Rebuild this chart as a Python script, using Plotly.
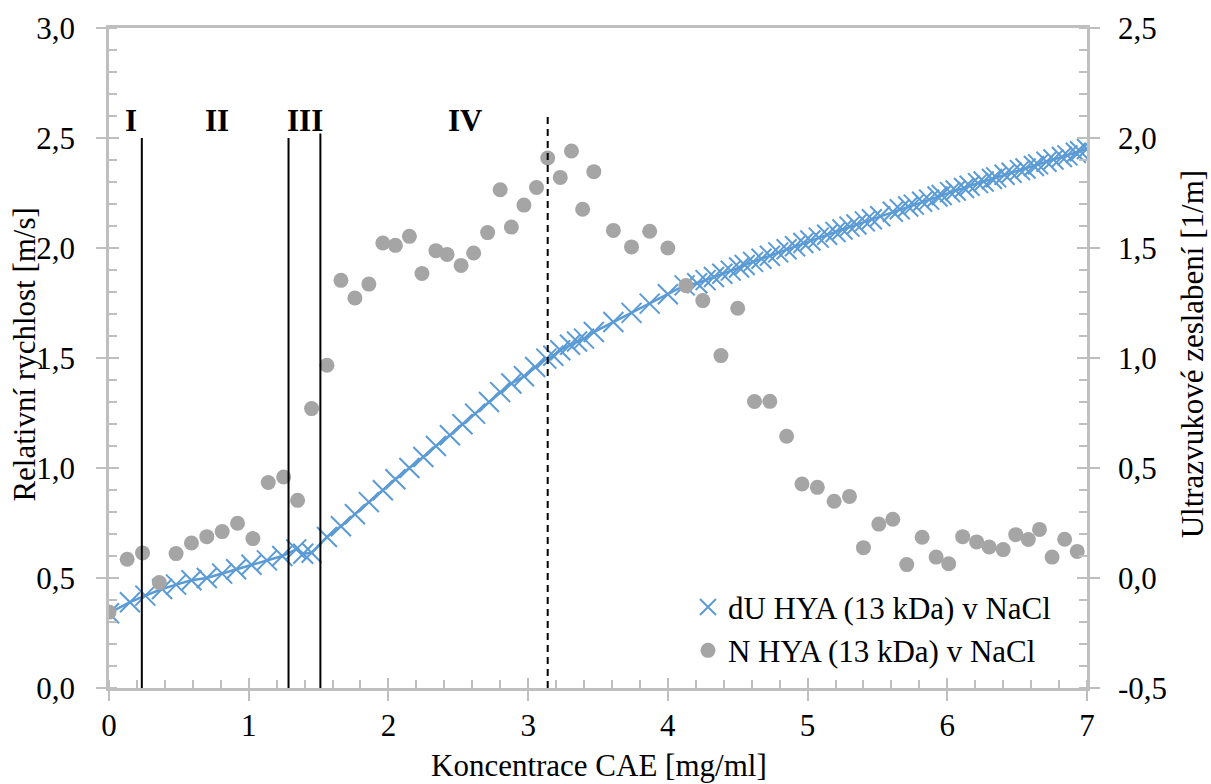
import plotly.graph_objects as go

# ---------------- data ----------------
# N HYA (13 kDa) v NaCl  -> right axis (Ultrazvukové zeslabení [1/m])
n_x = [0.00, 0.13, 0.24, 0.36, 0.48, 0.59, 0.70, 0.81, 0.92, 1.03,
       1.14, 1.25, 1.35, 1.45, 1.56, 1.66, 1.76, 1.86, 1.96, 2.05,
       2.15, 2.24, 2.34, 2.42, 2.52, 2.61, 2.71, 2.80, 2.88, 2.97,
       3.06, 3.14, 3.23, 3.31, 3.39, 3.47, 3.61, 3.74, 3.87, 4.00,
       4.13, 4.25, 4.38, 4.50, 4.62, 4.73, 4.85, 4.96, 5.07, 5.19,
       5.30, 5.40, 5.51, 5.61, 5.71, 5.82, 5.92, 6.01, 6.11, 6.21,
       6.30, 6.40, 6.49, 6.58, 6.66, 6.75, 6.84, 6.93]
n_y = [-0.155, 0.085, 0.114, -0.021, 0.111, 0.159, 0.188, 0.211, 0.249, 0.179,
       0.434, 0.459, 0.353, 0.770, 0.967, 1.353, 1.273, 1.336, 1.523, 1.512,
       1.553, 1.384, 1.488, 1.471, 1.421, 1.477, 1.570, 1.765, 1.595, 1.695,
       1.775, 1.909, 1.821, 1.941, 1.676, 1.847, 1.580, 1.505, 1.576, 1.500,
       1.329, 1.261, 1.011, 1.226, 0.802, 0.803, 0.644, 0.427, 0.412, 0.349,
       0.371, 0.138, 0.245, 0.267, 0.061, 0.185, 0.095, 0.065, 0.188, 0.164,
       0.141, 0.129, 0.197, 0.175, 0.221, 0.095, 0.176, 0.121]

# dU HYA (13 kDa) v NaCl -> left axis (Relativní rychlost [m/s])
du_x = [0.00, 0.15, 0.26, 0.38, 0.48, 0.59, 0.70, 0.81, 0.91, 1.02,
        1.13, 1.24, 1.34, 1.39, 1.45, 1.56, 1.66, 1.76, 1.86, 1.96,
        2.05, 2.15, 2.25, 2.34, 2.44, 2.53, 2.62, 2.72, 2.80, 2.88,
        2.97, 3.05, 3.13, 3.18, 3.23, 3.30, 3.35, 3.40, 3.47, 3.61,
        3.74, 3.87, 4.00, 4.12, 4.21, 4.27, 4.33, 4.39, 4.45, 4.51,
        4.55, 4.61, 4.67, 4.73, 4.79, 4.85, 4.91, 4.97, 5.02, 5.08,
        5.14, 5.20, 5.25, 5.30, 5.35, 5.41, 5.46, 5.52, 5.61, 5.66,
        5.72, 5.76, 5.82, 5.87, 5.93, 5.96, 6.02, 6.06, 6.12, 6.16,
        6.22, 6.26, 6.32, 6.35, 6.41, 6.46, 6.52, 6.56, 6.62, 6.65,
        6.71, 6.76, 6.82, 6.86, 6.92, 6.95, 7.00]
du_y = [0.34, 0.39, 0.42, 0.45, 0.47, 0.49, 0.50, 0.52, 0.54, 0.56,
        0.58, 0.60, 0.63, 0.61, 0.615, 0.686, 0.735, 0.790, 0.845, 0.899,
        0.949, 1.000, 1.050, 1.100, 1.149, 1.199, 1.247, 1.300, 1.345, 1.384,
        1.417, 1.459, 1.497, 1.510, 1.535, 1.560, 1.575, 1.588, 1.618, 1.664,
        1.705, 1.747, 1.790, 1.830, 1.840, 1.854, 1.868, 1.883, 1.897, 1.911,
        1.923, 1.937, 1.951, 1.965, 1.980, 1.994, 2.008, 2.023, 2.034, 2.047,
        2.060, 2.073, 2.084, 2.097, 2.107, 2.121, 2.131, 2.144, 2.165, 2.176,
        2.189, 2.197, 2.210, 2.220, 2.234, 2.241, 2.254, 2.261, 2.273, 2.283,
        2.295, 2.302, 2.314, 2.321, 2.333, 2.342, 2.354, 2.361, 2.373, 2.380,
        2.392, 2.402, 2.414, 2.421, 2.433, 2.440, 2.450]

# region boundaries (left-axis units)
region_x = [0.235, 1.285, 1.513]
region_top = [2.50, 2.50, 2.52]
peak_x = 3.14
peak_top = 2.60
region_labels = ["I", "II", "III", "IV"]
region_label_x = [0.16, 0.77, 1.40, 2.55]
region_label_y = 2.58

x_ticks = [0, 1, 2, 3, 4, 5, 6, 7]
x_ticktext = ["0", "1", "2", "3", "4", "5", "6", "7"]
yl_ticks = [0.0, 0.5, 1.0, 1.5, 2.0, 2.5, 3.0]
yl_ticktext = ["0,0", "0,5", "1,0", "1,5", "2,0", "2,5", "3,0"]
yr_ticks = [-0.5, 0.0, 0.5, 1.0, 1.5, 2.0, 2.5]
yr_ticktext = ["-0,5", "0,0", "0,5", "1,0", "1,5", "2,0", "2,5"]

# ---------------- style ----------------
FONT = "Liberation Serif"
FS = 31
BLUE = "#5b9bd5"
GREY = "#a5a5a5"
AX = "#bfbfbf"

fig = go.Figure()

fig.add_trace(go.Scatter(x=du_x, y=du_y, mode="lines", line=dict(color=BLUE, width=2.5),
                         showlegend=False, hoverinfo="skip", xaxis="x", yaxis="y"))
fig.add_trace(go.Scatter(x=du_x, y=du_y, mode="markers", name="dU HYA (13 kDa) v NaCl",
                         marker=dict(symbol="x-thin-open", size=20, color=BLUE,
                                     line=dict(color=BLUE, width=2)),
                         xaxis="x", yaxis="y"))
fig.add_trace(go.Scatter(x=n_x, y=n_y, mode="markers", name="N HYA (13 kDa) v NaCl",
                         marker=dict(symbol="circle", size=15, color=GREY),
                         xaxis="x", yaxis="y2"))

# boundary lines
for xv, top in zip(region_x, region_top):
    fig.add_shape(type="line", xref="x", yref="y", x0=xv, x1=xv, y0=0, y1=top,
                  line=dict(color="black", width=2), layer="above")
fig.add_shape(type="line", xref="x", yref="y", x0=peak_x, x1=peak_x, y0=0, y1=peak_top,
              line=dict(color="black", width=2, dash="7px,5px"), layer="above")

for t, xv in zip(region_labels, region_label_x):
    fig.add_annotation(x=xv, y=region_label_y, xref="x", yref="y", text="<b>" + t + "</b>",
                       showarrow=False, font=dict(family=FONT, size=FS, color="black"),
                       xanchor="center", yanchor="middle")

# axis titles
fig.add_annotation(x=-0.086, y=0.505, xref="paper", yref="paper", text="Relativní rychlost [m/s]",
                   textangle=-90, showarrow=False, font=dict(family=FONT, size=FS, color="black"),
                   xanchor="center", yanchor="middle")
fig.add_annotation(x=1.108, y=0.505, xref="paper", yref="paper", text="Ultrazvukové zeslabení [1/m]",
                   textangle=-90, showarrow=False, font=dict(family=FONT, size=FS, color="black"),
                   xanchor="center", yanchor="middle")
fig.add_annotation(x=0.501, y=-0.117, xref="paper", yref="paper", text="Koncentrace CAE [mg/ml]",
                   showarrow=False, font=dict(family=FONT, size=FS, color="black"),
                   xanchor="center", yanchor="middle")

tickfont = dict(family=FONT, size=FS, color="black")

fig.update_layout(
    width=1211, height=784,
    margin=dict(l=109, r=124, t=28, b=96),
    paper_bgcolor="white", plot_bgcolor="white",
    font=dict(family=FONT, size=FS, color="black"),
    showlegend=True,
    legend=dict(x=0.592, y=0.163, xanchor="left", yanchor="top", bgcolor="rgba(0,0,0,0)",
                font=dict(family=FONT, size=FS, color="black"), tracegroupgap=0,
                itemwidth=30),
    xaxis=dict(range=[0, 7], tickvals=x_ticks, ticktext=x_ticktext, ticks="outside", ticklen=10,
               tickwidth=2, tickcolor=AX, showline=True, linecolor=AX, linewidth=2.5, mirror=True,
               showgrid=False, zeroline=False, tickfont=tickfont, ticklabelstandoff=-2,
               minor=dict(ticks="inside", dtick=0.2, ticklen=8, tickwidth=2, tickcolor=AX,
                          showgrid=False)),
    xaxis2=dict(range=[0, 7], overlaying="x", anchor="y", side="bottom", tickvals=x_ticks,
                ticks="inside", ticklen=10, tickwidth=2, tickcolor=AX, showticklabels=False,
                showline=False, showgrid=False, zeroline=False),
    yaxis=dict(range=[0, 3], tickvals=yl_ticks, ticktext=yl_ticktext, ticks="outside", ticklen=10,
               tickwidth=2, tickcolor=AX, showline=True, linecolor=AX, linewidth=2.5,
               showgrid=False, zeroline=False, tickfont=tickfont, ticklabelstandoff=15,
               minor=dict(ticks="inside", dtick=0.1, ticklen=8, tickwidth=2, tickcolor=AX,
                          showgrid=False)),
    yaxis2=dict(range=[-0.5, 2.5], overlaying="y", side="right", anchor="x", tickvals=yr_ticks,
                ticktext=yr_ticktext, ticks="outside", ticklen=10, tickwidth=2, tickcolor=AX,
                showline=True, linecolor=AX, linewidth=2.5, showgrid=False, zeroline=False,
                tickfont=tickfont, ticklabelstandoff=12,
                minor=dict(ticks="inside", dtick=0.1, ticklen=8, tickwidth=2, tickcolor=AX,
                           showgrid=False)),
    yaxis3=dict(range=[0, 3], overlaying="y", side="left", anchor="x", tickvals=yl_ticks,
                ticks="inside", ticklen=10, tickwidth=2, tickcolor=AX, showticklabels=False,
                showline=False, showgrid=False, zeroline=False),
    yaxis4=dict(range=[-0.5, 2.5], overlaying="y", side="right", anchor="x", tickvals=yr_ticks,
                ticks="inside", ticklen=10, tickwidth=2, tickcolor=AX, showticklabels=False,
                showline=False, showgrid=False, zeroline=False),
)

# invisible helpers so the overlay tick axes are rendered
fig.add_trace(go.Scatter(x=[None], y=[None], xaxis="x2", yaxis="y3", showlegend=False, hoverinfo="skip"))
fig.add_trace(go.Scatter(x=[None], y=[None], xaxis="x", yaxis="y4", showlegend=False, hoverinfo="skip"))

fig.write_html("out.html")
